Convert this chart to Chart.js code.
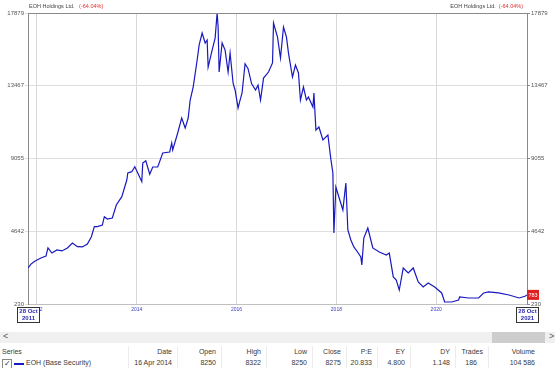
<!DOCTYPE html>
<html>
<head>
<meta charset="utf-8">
<script src="https://cdn.jsdelivr.net/npm/chart.js@4.4.0/dist/chart.umd.min.js"></script>
<style>
  body { margin: 0; background: #fff; font-family: "Liberation Sans", Arial, sans-serif; }
  #wrap { position: relative; width: 555px; height: 368px; overflow: hidden; }
  #chart { position: absolute; left: 0; top: 0; }
  .band { position: absolute; left: 0; top: 332px; width: 555px; height: 11px; background: #f0f0f0; }
  .thumb { position: absolute; left: 492px; top: 0; width: 53px; height: 11px; background: #cdcdcd; }
  .arr { position: absolute; top: -1px; font-size: 9px; color: #555; }
  .cell { position: absolute; font-size: 7px; color: #3a3a3a; white-space: nowrap; }
  .sep { position: absolute; top: 346px; width: 1px; height: 22px; background: #ececec; }
</style>
</head>
<body>
<div id="wrap">
  <canvas id="chart" width="555" height="330"></canvas>
  <div class="band"><span class="arr" style="left:3px">&lt;</span><div class="thumb"></div><span class="arr" style="left:549px">&gt;</span></div>
  <div id="table"></div>
</div>
<script>
// price history, x = decimal year
var years = [2011.82, 2011.88, 2011.94, 2012.00, 2012.08, 2012.18, 2012.22, 2012.30, 2012.40, 2012.50,
  2012.61, 2012.71, 2012.81, 2012.91, 2013.01, 2013.09, 2013.15, 2013.21, 2013.31, 2013.35,
  2013.41, 2013.51, 2013.59, 2013.70, 2013.80, 2013.82, 2013.90, 2013.96, 2014.02, 2014.10,
  2014.12, 2014.18, 2014.26, 2014.32, 2014.42, 2014.52, 2014.66, 2014.70, 2014.72, 2014.82,
  2014.90, 2014.97, 2015.03, 2015.07, 2015.13, 2015.21, 2015.25, 2015.31, 2015.37, 2015.41,
  2015.43, 2015.51, 2015.57, 2015.61, 2015.63, 2015.65, 2015.71, 2015.77, 2015.83, 2015.87,
  2015.93, 2015.97, 2016.03, 2016.07, 2016.11, 2016.17, 2016.23, 2016.30, 2016.38, 2016.43,
  2016.48, 2016.54, 2016.64, 2016.72, 2016.74, 2016.82, 2016.88, 2016.94, 2017.00, 2017.04,
  2017.12, 2017.18, 2017.24, 2017.28, 2017.34, 2017.40, 2017.44, 2017.53, 2017.55, 2017.59,
  2017.65, 2017.73, 2017.83, 2017.89, 2017.93, 2017.95, 2017.99, 2018.05, 2018.13, 2018.19,
  2018.23, 2018.29, 2018.35, 2018.42, 2018.49, 2018.51, 2018.55, 2018.63, 2018.73, 2018.86,
  2019.00, 2019.06, 2019.14, 2019.20, 2019.26, 2019.34, 2019.44, 2019.54, 2019.64, 2019.74,
  2019.84, 2019.97, 2020.11, 2020.17, 2020.31, 2020.45, 2020.47, 2020.65, 2020.85, 2020.95,
  2021.05, 2021.25, 2021.46, 2021.66, 2021.78, 2021.82];
var prices = [2413, 2650, 2795, 2900, 3020, 3140, 3630, 3320, 3505, 3450,
  3630, 3930, 3705, 3690, 3870, 4310, 4920, 4920, 5020, 5525,
  5385, 5445, 6235, 6740, 7750, 8175, 8255, 8560, 8175, 7650,
  8780, 8920, 8100, 8540, 8540, 9390, 9450, 9995, 9570, 10600,
  11510, 10900, 11510, 12600, 13390, 15030, 15940, 16665, 16060, 16240,
  14600, 15630, 16360, 17880, 17030, 14300, 16060, 15630, 14300, 15450,
  13630, 13210, 12120, 12600, 13030, 14800, 14500, 13600, 13210, 13500,
  12600, 13930, 14300, 14850, 17270, 16420, 15150, 17030, 16420, 15450,
  13990, 14720, 14240, 12600, 13390, 12600, 12790, 12180, 13030, 10780,
  10965, 10180, 10480, 9000, 8175, 4536, 7325, 6720, 5930, 7570,
  4720, 4110, 3690, 3400, 3080, 2595, 4230, 4840, 3630, 3385,
  3200, 3320, 1870, 1685, 1080, 2415, 2110, 2415, 1565, 1260,
  1505, 1260, 900, 350, 350, 470, 655, 595, 595, 900,
  960, 900, 775, 595, 700, 783];

var yTicks = [230, 4642.25, 9054.5, 13466.75, 17879];
var xTicks = [2012, 2014, 2016, 2018, 2020];
var seriesName = "EOH Holdings Ltd.";
var change = "(-64.04%)";
var lastPrice = "783";
var startDate = ["28 Oct", "2011"];
var endDate = ["28 Oct", "2021"];

var headers = ["Date", "Open", "High", "Low", "Close", "P:E", "EY", "DY", "Trades", "Volume"];
var rowValues = ["16 Apr 2014", "8250", "8322", "8250", "8275", "20.833", "4.800", "1.148", "186", "104 586"];
var colRight = [172, 216, 261, 307, 341, 372, 405, 450, 483, 535];

var points = [];
for (let i = 0; i < years.length; i++) {
  points.push({x: years[i], y: prices[i]});
}

var overlay = {
  id: 'overlay',
  afterDraw: function(chart) {
    var c = chart.ctx;
    var a = chart.chartArea;
    var ys = chart.scales.y;
    c.save();
    // top frame line
    c.strokeStyle = '#8a8a8a';
    c.lineWidth = 1;
    c.beginPath();
    c.moveTo(a.left, a.top + 0.5); c.lineTo(a.right, a.top + 0.5);
    c.stroke();
    // titles
    c.font = '5.5px "Liberation Sans", Arial, sans-serif';
    c.textBaseline = 'middle';
    c.textAlign = 'left';
    c.fillStyle = '#444';
    c.fillText(seriesName, 29, 6);
    var w = c.measureText(seriesName + ' ').width;
    c.fillStyle = '#e03030';
    c.fillText(change, 29 + w + 3, 6);
    var w2 = c.measureText(change).width;
    c.fillText(change, a.right - w2 - 4, 6);
    c.fillStyle = '#444';
    c.textAlign = 'right';
    c.fillText(seriesName, a.right - w2 - 7, 6);
    // last price tag
    var py = ys.getPixelForValue(783);
    c.fillStyle = '#e02020';
    c.fillRect(a.right, py - 5, 12, 10);
    c.fillStyle = '#fff';
    c.textAlign = 'center';
    c.fillText(lastPrice, a.right + 6, py + 0.5);
    // date boxes
    [[a.left, startDate], [a.right, endDate]].forEach(function(b) {
      var bx = Math.round(b[0] - 11) + 0.5;
      c.fillStyle = '#fff';
      c.fillRect(bx, 307.5, 22, 15);
      c.strokeStyle = '#333';
      c.strokeRect(bx, 307.5, 22, 15);
      c.fillStyle = '#2a2ab0';
      c.font = 'bold 6px "Liberation Sans", Arial, sans-serif';
      c.textAlign = 'center';
      c.fillText(b[1][0], bx + 11, 311.5);
      c.fillText(b[1][1], bx + 11, 318.5);
    });
    c.restore();
  }
};

new Chart(document.getElementById("chart"), {
  type: 'line',
  data: {
    datasets: [{
      data: points,
      borderColor: "#1818c0",
      borderWidth: 1.2,
      pointRadius: 0,
      tension: 0,
      fill: false
    }]
  },
  options: {
    responsive: false,
    animation: false,
    devicePixelRatio: 1,
    layout: { padding: { top: 13, left: 0, right: 0, bottom: 0 } },
    plugins: { legend: { display: false }, tooltip: { enabled: false } },
    scales: {
      x: {
        type: 'linear',
        min: 2011.82,
        max: 2021.82,
        afterBuildTicks: function(s) { s.ticks = xTicks.map(function(v) { return {value: v}; }); },
        afterFit: function(s) { s.height = 26; },
        ticks: {
          color: '#3a3ac0',
          font: { size: 5, family: '"Liberation Sans", Arial, sans-serif' },
          maxRotation: 0,
          autoSkip: false,
          padding: 3,
          callback: function(v) { return String(v); }
        },
        grid: { color: '#d8d8d8', tickLength: 0 },
        border: { color: '#c0c0c0' }
      },
      y: {
        position: 'left',
        min: 230,
        max: 17879,
        afterBuildTicks: function(s) { s.ticks = yTicks.map(function(v) { return {value: v}; }); },
        afterFit: function(s) { s.width = 28; },
        ticks: {
          color: '#555',
          font: { size: 6, family: '"Liberation Sans", Arial, sans-serif' },
          padding: 1,
          callback: function(v) { return String(Math.round(v)); }
        },
        grid: { color: '#dedede', tickLength: 3 },
        border: { color: '#8a8a8a' }
      },
      y2: {
        position: 'right',
        min: 230,
        max: 17879,
        afterBuildTicks: function(s) { s.ticks = yTicks.map(function(v) { return {value: v}; }); },
        afterFit: function(s) { s.width = 28; },
        ticks: {
          color: '#555',
          font: { size: 6, family: '"Liberation Sans", Arial, sans-serif' },
          padding: 1,
          callback: function(v) { return String(Math.round(v)); }
        },
        grid: { drawOnChartArea: false, color: '#8a8a8a', tickLength: 3 },
        border: { color: '#8a8a8a' }
      }
    }
  },
  plugins: [overlay]
});

// series table below the chart
var table = document.getElementById("table");
var html = '<div class="cell" style="left:2px;top:348px">Series</div>';
html += '<div style="position:absolute;left:2px;top:359px;width:8px;height:8px;border:1px solid #888;background:#fff;font-size:8px;line-height:8px;color:#333;text-align:center">&#10003;</div>';
html += '<div style="position:absolute;left:14px;top:363px;width:10px;height:2px;background:#1818c0"></div>';
html += '<div class="cell" style="left:26px;top:359px">EOH (Base Security)</div>';
var seps = [128, 177, 221, 266, 312, 346, 377, 410, 455, 488];
for (let i = 0; i < headers.length; i++) {
  var r = 555 - colRight[i];
  var rv = headers[i] === "Trades" ? r + 6 : r;
  html += '<div class="cell" style="right:' + r + 'px;top:348px">' + headers[i] + '</div>';
  html += '<div class="cell" style="right:' + rv + 'px;top:359px">' + rowValues[i] + '</div>';
}
for (let i = 0; i < seps.length; i++) {
  html += '<div class="sep" style="left:' + seps[i] + 'px"></div>';
}
table.innerHTML = html;
</script>
</body>
</html>
